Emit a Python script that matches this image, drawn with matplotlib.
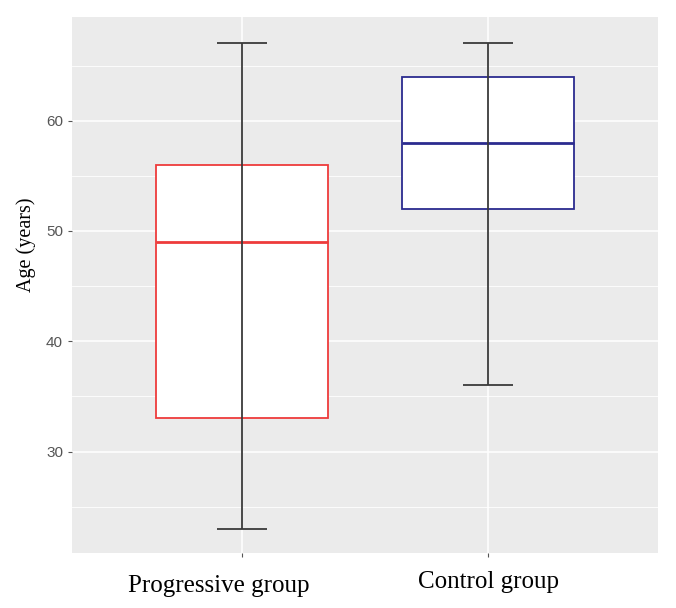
import numpy as np
import matplotlib.pyplot as plt

# group summary values (years)
groups = ["Progressive group", "Control group"]
whisker_lo = [23, 36]
q1 = [33, 52]
median = [49, 58]
q3 = [56, 64]
whisker_hi = [67, 67]
edge_colors = ["#ee3b3b", "#2b2b8f"]
label_dx = [-17, 0]    # points; labels are a bit off their ticks in the original
label_dy = [-16, -13]

fig = plt.figure(figsize=(6.76, 6.08), dpi=100)
ax = fig.add_axes([72 / 676, 1 - 553 / 608, 586 / 676, 536 / 608])
ax.set_facecolor("#ebebeb")

pos = np.arange(1, len(groups) + 1)
stats = []
for i in range(len(groups)):
    stats.append({"whislo": whisker_lo[i], "q1": q1[i], "med": median[i],
                  "q3": q3[i], "whishi": whisker_hi[i], "fliers": []})

bp = ax.bxp(stats, positions=pos, widths=0.7, patch_artist=True,
            showcaps=False, showfliers=False, manage_ticks=False)
for i, b in enumerate(bp["boxes"]):
    b.set_facecolor("white")
    b.set_edgecolor(edge_colors[i])
    b.set_linewidth(1.3)
    b.set_zorder(3)
for i, m in enumerate(bp["medians"]):
    m.set_color(edge_colors[i])
    m.set_linewidth(2.0)
    m.set_zorder(4)
for w in bp["whiskers"]:
    w.set_visible(False)

# error-bar style whiskers drawn over the boxes
ax.vlines(pos, whisker_lo, whisker_hi, color="#3a3a3a", lw=1.3, zorder=5)
ax.hlines(whisker_lo, pos - 0.1, pos + 0.1, color="#3a3a3a", lw=1.3, zorder=5)
ax.hlines(whisker_hi, pos - 0.1, pos + 0.1, color="#3a3a3a", lw=1.3, zorder=5)

ax.set_xlim(0.31, 2.69)
ax.set_ylim(20.8, 69.4)
ax.set_yticks([30, 40, 50, 60])
ax.set_yticks([25, 35, 45, 55, 65], minor=True)
ax.set_xticks(pos)
ax.set_xticklabels([])
for i, g in enumerate(groups):
    ax.annotate(g, xy=(pos[i], 0), xycoords=("data", "axes fraction"),
                xytext=(label_dx[i], label_dy[i]), textcoords="offset points",
                ha="center", va="top", family="Liberation Serif", fontsize=18)
for t in ax.get_yticklabels():
    t.set_family("Liberation Sans")
ax.grid(which="major", color="white", lw=1.1)
ax.grid(which="minor", axis="y", color="white", lw=0.6)
ax.set_axisbelow(True)
ax.tick_params(axis="y", which="major", labelsize=11, labelcolor="#555555",
               color="#555555", length=3)
ax.tick_params(axis="y", which="minor", length=0)
ax.tick_params(axis="x", color="#555555", length=3)
for s in ax.spines.values():
    s.set_visible(False)

ax.set_ylabel("Age (years)", family="Liberation Serif", fontsize=14.5)
ax.yaxis.set_label_coords(-0.062, 0.575)

fig.savefig("out.png", dpi=100)
